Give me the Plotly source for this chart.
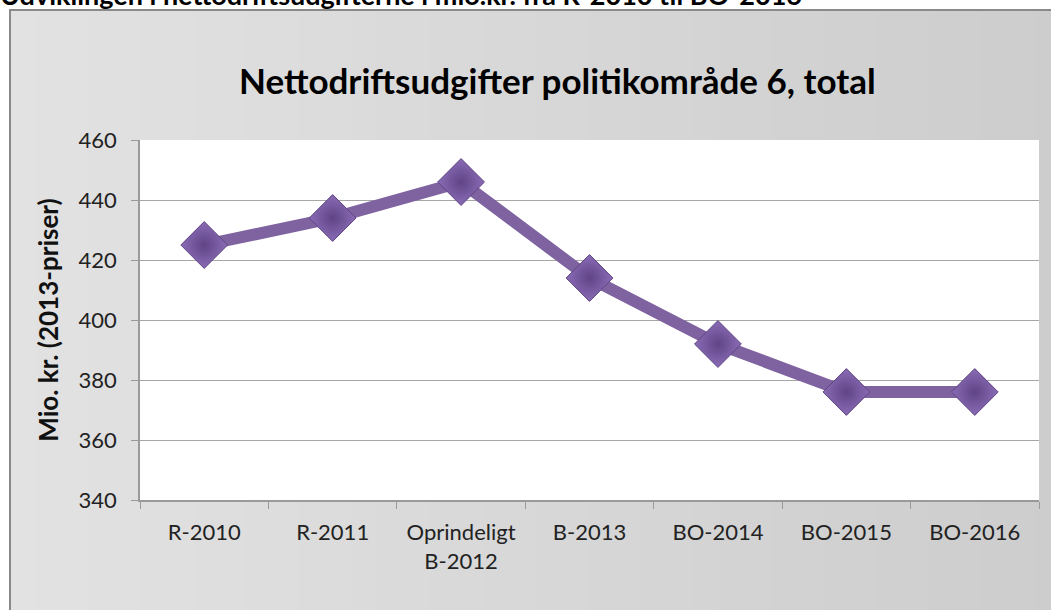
import plotly.graph_objects as go

categories = ["R-2010", "R-2011", "Oprindeligt<br>B-2012", "B-2013", "BO-2014", "BO-2015", "BO-2016"]
values = [425, 434, 446, 414, 392, 376, 376]
y_ticks = [340, 360, 380, 400, 420, 440, 460]

W, H = 1051, 610
ml, mr, mt, mb = 140, 12, 140, 110
pw, ph = W - ml - mr, H - mt - mb

def px_x(p):
    return (p - ml) / pw

def px_y(p):
    return (H - mb - p) / ph

font = "Lato, Open Sans, sans-serif"

fig = go.Figure()
fig.add_trace(go.Scatter(
    x=categories, y=values, mode="lines+markers",
    line=dict(color="#7f62a0", width=12),
    marker=dict(symbol="diamond", size=36, color="#8a6cb6",
                line=dict(color="#5e4482", width=1),
                gradient=dict(type="radial", color="#5f4485")),
    cliponaxis=False, showlegend=False,
))

# background gradient strips inside the chart border
shapes = []
n = 40
x_start, x_end = 10, 1060
for i in range(n):
    t = i / (n - 1)
    c = int(round(0xe2 - t * (0xe2 - 0xcd)))
    xa = x_start + (x_end - x_start) * i / n
    xb = x_start + (x_end - x_start) * (i + 1) / n + 1
    shapes.append(dict(type="rect", xref="paper", yref="paper",
                       x0=px_x(xa), x1=px_x(xb), y0=px_y(10), y1=px_y(620),
                       line=dict(width=0), fillcolor=f"rgb({c},{c},{c})", layer="below"))
shapes.append(dict(type="rect", xref="x domain", yref="y domain", x0=0, x1=1, y0=0, y1=1,
                   line=dict(width=0), fillcolor="#ffffff", layer="below"))
shapes.append(dict(type="rect", xref="paper", yref="paper",
                   x0=px_x(10), x1=px_x(1060), y0=px_y(10), y1=px_y(620),
                   line=dict(color="#8a8a8a", width=2), fillcolor="rgba(0,0,0,0)", layer="below"))

fig.update_layout(
    width=W, height=H,
    margin=dict(l=ml, r=mr, t=mt, b=mb),
    paper_bgcolor="#ffffff",
    plot_bgcolor="#ffffff",
    font=dict(family=font, color="#222222"),
    xaxis=dict(
        type="category", tickson="boundaries", ticks="outside", ticklen=7,
        tickcolor="#9a9a9a", showline=True, linecolor="#9a9a9a", linewidth=1.5,
        showgrid=False, tickfont=dict(size=22, family=font, color="#222222"),
        ticklabelstandoff=12,
        range=[-0.5, 6.5],
    ),
    yaxis=dict(
        range=[340, 460], tickvals=y_ticks, ticks="outside", ticklen=7,
        tickcolor="#9a9a9a", showline=True, linecolor="#9a9a9a", linewidth=1.5,
        gridcolor="#a6a6a6", gridwidth=1.2, zeroline=False,
        tickfont=dict(size=22, family=font, color="#222222"),
        ticklabelstandoff=10,
        title=dict(text="<b>Mio. kr. (2013-priser)</b>", font=dict(size=26, family=font, color="#111111"), standoff=12),
    ),
    shapes=shapes,
    annotations=[
        dict(text="<b>Nettodriftsudgifter politikområde 6, total</b>", xref="paper", yref="paper",
             x=px_x(557), y=px_y(80), xanchor="center", yanchor="middle", showarrow=False,
             font=dict(size=35, family=font, color="#000000")),
        dict(text="<b>Udviklingen i nettodriftsudgifterne i mio.kr. fra R-2010 til BO-2016</b>",
             xref="paper", yref="paper", x=px_x(-2), y=px_y(-6), xanchor="left", yanchor="middle",
             showarrow=False, font=dict(size=27, family=font, color="#000000")),
    ],
)

fig.write_html("out.html", config={"displayModeBar": False},
               post_script="document.body.style.margin='0px';")
